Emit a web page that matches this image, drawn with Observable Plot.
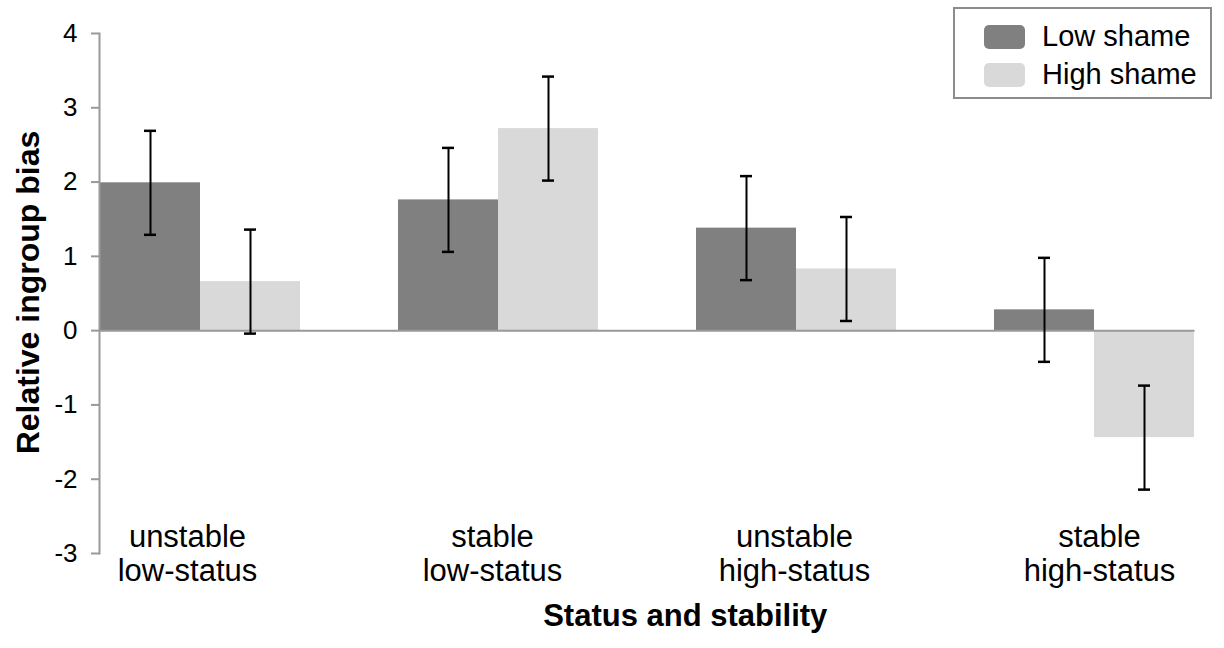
<!DOCTYPE html>
<html>
<head>
<meta charset="utf-8">
<script src="https://cdn.jsdelivr.net/npm/d3@7"></script>
<script src="https://cdn.jsdelivr.net/npm/@observablehq/plot@0.6"></script>
<style>
  html, body { margin: 0; padding: 0; background: #fff; }
  #wrap { position: relative; width: 1224px; height: 648px; font-family: "Liberation Sans", Arial, sans-serif; }
  #legend { position: absolute; left: 953px; top: 7px; width: 259px; height: 92px; box-sizing: border-box;
            border: 2px solid #8c8c8c; background: #fff; }
  .item { position: absolute; left: 29px; display: flex; align-items: center; font-size: 29px; color: #000; }
  .sw { width: 41px; height: 24px; border-radius: 5px; margin-right: 17px; }
</style>
</head>
<body>
<div id="wrap"></div>
<script>
const categories = ["unstable\nlow-status", "stable\nlow-status", "unstable\nhigh-status", "stable\nhigh-status"];
const seriesNames = ["Low shame", "High shame"];
const lowShame = [1.99, 1.76, 1.38, 0.28];
const highShame = [0.66, 2.72, 0.83, -1.44];
const lowErr = [0.70, 0.70, 0.70, 0.70];
const highErr = [0.70, 0.70, 0.70, 0.70];
const yTicks = [-3, -2, -1, 0, 1, 2, 3, 4];
const colors = ["#808080", "#d9d9d9"];

const low = categories.map((c, i) => ({cat: c, v: lowShame[i], lo: lowShame[i] - lowErr[i], hi: lowShame[i] + lowErr[i]}));
const high = categories.map((c, i) => ({cat: c, v: highShame[i], lo: highShame[i] - highErr[i], hi: highShame[i] + highErr[i]}));

const font = '"Liberation Sans", Arial, sans-serif';
const labelShift = [-13, -6, -2, 5];

const chart = Plot.plot({
  width: 1224,
  height: 648,
  marginLeft: 99,
  marginRight: 29.5,
  marginTop: 33,
  marginBottom: 95,
  style: {fontFamily: font, background: "transparent", overflow: "visible"},
  x: {type: "band", domain: categories, paddingInner: 0.33, paddingOuter: 0, axis: null},
  y: {domain: [-3, 4], axis: null},
  marks: [
    Plot.barY(low, {x: "cat", y: "v", fill: colors[0], insetRight: 100, insetLeft: 0}),
    Plot.barY(high, {x: "cat", y: "v", fill: colors[1], insetLeft: 100, insetRight: 0}),
    Plot.ruleY([0], {stroke: "#999", strokeWidth: 2}),
    Plot.axisY({ticks: yTicks, tickSize: 8, tickFormat: () => "", stroke: "#999", strokeWidth: 2, label: null, strokeOpacity: 1}),
    Plot.text(yTicks, {y: d => d, text: d => String(d), frameAnchor: "left", textAnchor: "end", dx: -22, fontSize: 26, fill: "#000"}),
    Plot.frame({anchor: "left", stroke: "#999", strokeWidth: 2}),
    Plot.ruleX(low, {x: "cat", y1: "lo", y2: "hi", dx: -50, stroke: "#000", strokeWidth: 2}),
    Plot.tickY(low, {x: "cat", y: "lo", insetLeft: 44, insetRight: 144, stroke: "#000", strokeWidth: 2.5}),
    Plot.tickY(low, {x: "cat", y: "hi", insetLeft: 44, insetRight: 144, stroke: "#000", strokeWidth: 2.5}),
    Plot.ruleX(high, {x: "cat", y1: "lo", y2: "hi", dx: 50, stroke: "#000", strokeWidth: 2}),
    Plot.tickY(high, {x: "cat", y: "lo", insetLeft: 144, insetRight: 44, stroke: "#000", strokeWidth: 2.5}),
    Plot.tickY(high, {x: "cat", y: "hi", insetLeft: 144, insetRight: 44, stroke: "#000", strokeWidth: 2.5}),
    ...categories.map((c, i) => Plot.text([c], {x: d => d, frameAnchor: "bottom", lineAnchor: "middle", dx: labelShift[i], dy: 0, fontSize: 31, fill: "#000", lineHeight: 1.1})),
    Plot.text(["Relative ingroup bias"], {frameAnchor: "left", textAnchor: "middle", rotate: -90, dx: -71, dy: -1, fontSize: 32, fontWeight: "bold", fill: "#000"}),
    Plot.text(["Status and stability"], {frameAnchor: "bottom", textAnchor: "middle", dx: 38, dy: 63, fontSize: 31, fontWeight: "bold", fill: "#000", lineAnchor: "middle"})
  ]
});

const wrap = document.getElementById("wrap");
wrap.appendChild(chart);

const legend = document.createElement("div");
legend.id = "legend";
seriesNames.forEach((name, i) => {
  const item = document.createElement("div");
  item.className = "item";
  item.style.top = (i === 0 ? 11 : 49) + "px";
  const sw = document.createElement("span");
  sw.className = "sw";
  sw.style.background = colors[i];
  const t = document.createElement("span");
  t.textContent = name;
  item.appendChild(sw);
  item.appendChild(t);
  legend.appendChild(item);
});
wrap.appendChild(legend);
</script>
</body>
</html>
